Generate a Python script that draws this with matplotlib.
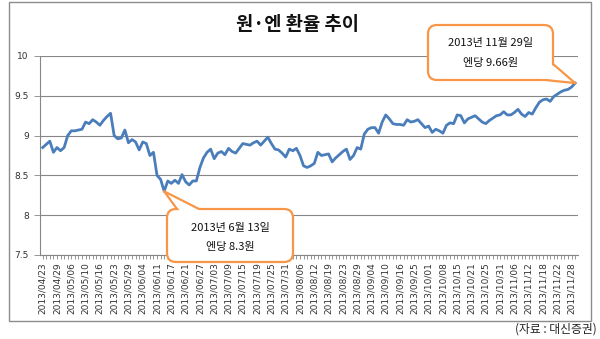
# 원·엔 환율 추이 차트 재현
import matplotlib
matplotlib.use('Agg')
import matplotlib.pyplot as plt
from matplotlib.patches import FancyBboxPatch, Polygon, Rectangle
from matplotlib.transforms import Affine2D

plt.rcParams['font.family'] = ['Noto Sans CJK KR', 'DejaVu Sans']

# 데이터 (엔당 원)
tick_dates = [
    "2013/04/23", "2013/04/29", "2013/05/06", "2013/05/10", "2013/05/16",
    "2013/05/23", "2013/05/29", "2013/06/04", "2013/06/11", "2013/06/17",
    "2013/06/21", "2013/06/27", "2013/07/03", "2013/07/09", "2013/07/15",
    "2013/07/19", "2013/07/25", "2013/07/31", "2013/08/06", "2013/08/12",
    "2013/08/19", "2013/08/23", "2013/08/29", "2013/09/04", "2013/09/10",
    "2013/09/16", "2013/09/25", "2013/10/01", "2013/10/08", "2013/10/15",
    "2013/10/21", "2013/10/25", "2013/10/31", "2013/11/06", "2013/11/12",
    "2013/11/18", "2013/11/22", "2013/11/28",
]
label_step = 4

values = [
    8.85, 8.89, 8.93, 8.79, 8.85, 8.81, 8.85, 9.00, 9.06, 9.06,
    9.07, 9.08, 9.17, 9.15, 9.20, 9.17, 9.13, 9.19, 9.24, 9.28,
    9.00, 8.96, 8.97, 9.07, 8.91, 8.95, 8.92, 8.82, 8.92, 8.90,
    8.75, 8.79, 8.50, 8.45, 8.30, 8.43, 8.40, 8.44, 8.40, 8.51,
    8.42, 8.38, 8.43, 8.43, 8.60, 8.72, 8.79, 8.83, 8.71, 8.78,
    8.80, 8.76, 8.84, 8.80, 8.78, 8.84, 8.90, 8.89, 8.88, 8.91,
    8.93, 8.88, 8.93, 8.98, 8.90, 8.83, 8.82, 8.78, 8.73, 8.83,
    8.81, 8.84, 8.75, 8.62, 8.60, 8.62, 8.65, 8.79, 8.75, 8.76,
    8.77, 8.67, 8.72, 8.76, 8.80, 8.83, 8.70, 8.75, 8.85, 8.83,
    9.02, 9.08, 9.10, 9.10, 9.03, 9.17, 9.26, 9.21, 9.15, 9.14,
    9.14, 9.13, 9.20, 9.17, 9.18, 9.20, 9.15, 9.10, 9.12, 9.04,
    9.08, 9.06, 9.03, 9.13, 9.16, 9.15, 9.26, 9.25, 9.16, 9.21,
    9.23, 9.25, 9.21, 9.17, 9.15, 9.19, 9.22, 9.25, 9.26, 9.30,
    9.26, 9.26, 9.29, 9.33, 9.27, 9.24, 9.29, 9.27, 9.35, 9.42,
    9.45, 9.46, 9.43, 9.49, 9.52, 9.55, 9.57, 9.58, 9.61, 9.66,
]
y_ticks = [7.5, 8, 8.5, 9, 9.5, 10]
y_labels = ["7.5", "8", "8.5", "9", "9.5", "10"]

low_idx = 34   # 2013년 6월 13일
high_idx = len(values) - 1   # 2013년 11월 29일
low_text = ["2013년 6월 13일", "엔당 8.3원"]
high_text = ["2013년 11월 29일", "엔당 9.66원"]

couleur_ligne = '#4A7EBB'
orange = '#F79646'
gris = '#868686'

W, H = 600, 339
fig = plt.figure(figsize=(W / 100, H / 100), dpi=100)
# coordonnées en pixels (origine en haut à gauche)
px = Affine2D().scale(1 / 100, -1 / 100).translate(0, H / 100) + fig.dpi_scale_trans

ax = fig.add_axes([40 / W, 1 - 255 / H, (578 - 40) / W, (255 - 56) / H])
x = list(range(len(values)))
ax.plot(x, values, color=couleur_ligne, lw=2.0, zorder=3, solid_joinstyle='round')
ax.set_xlim(-0.75, 149.8)
ax.set_ylim(7.5, 10)

xlabels = [''] * len(values)
for k, d in enumerate(tick_dates):
    xlabels[k * label_step] = d
ax.set_xticks(x, labels=xlabels, family='DejaVu Sans')
ax.set_yticks(y_ticks, labels=y_labels, family='DejaVu Sans')
ax.tick_params(axis='x', length=3, width=0.6, color=gris, labelsize=6.5,
               labelrotation=90, labelcolor='#333333', pad=2)
ax.tick_params(axis='y', length=4, width=0.6, color=gris, labelsize=6.5,
               labelcolor='#333333', pad=4)
ax.grid(axis='y', color=gris, lw=0.8)
ax.set_axisbelow(True)
for s in ['top', 'right']:
    ax.spines[s].set_visible(False)
for s in ['left', 'bottom']:
    ax.spines[s].set_color(gris)
    ax.spines[s].set_linewidth(0.8)

# cadre extérieur
fig.add_artist(Rectangle((9, 2), 582, 319, transform=px, fill=False,
                         ec='#8c8c8c', lw=1, zorder=1))

fig.text(298, 25, '원·엔 환율 추이', transform=px, ha='center', va='center',
         fontsize=13.5, weight='bold', color='#111111')
fig.text(597, 329, '(자료 : 대신증권)', transform=px, ha='right', va='center',
         fontsize=8.5, color='#222222')


def bulle(box, base1, base2, point, lignes, ys):
    x0, y0, x1, y1 = box
    fig.add_artist(FancyBboxPatch((x0, y0), x1 - x0, y1 - y0, transform=px,
                                  boxstyle='round,pad=0,rounding_size=9',
                                  fc='white', ec=orange, lw=1.6, zorder=5))
    tip = tuple(px.inverted().transform(ax.transData.transform(point)))
    cx = (x0 + x1) / 2
    cy = (y0 + y1) / 2
    inner = []
    for b in (base1, base2):
        dx, dy = cx - b[0], cy - b[1]
        n = (dx ** 2 + dy ** 2) ** 0.5
        inner.append((b[0] + 3 * dx / n, b[1] + 3 * dy / n))
    # remplissage blanc de la pointe (cache le bord de la boîte)
    fig.add_artist(Polygon([inner[0], tip, inner[1], (cx, cy)], closed=True,
                           transform=px, fc='white', ec='none', zorder=6))
    for b in (base1, base2):
        fig.add_artist(plt.Line2D([b[0], tip[0]], [b[1], tip[1]], transform=px,
                                  color=orange, lw=1.6, zorder=7,
                                  solid_capstyle='round'))
    for t, yy in zip(lignes, ys):
        fig.text(cx, yy, t, transform=px, ha='center', va='center',
                 fontsize=8, color='#111111', zorder=8)


bulle((167, 209, 293, 262), (177, 209), (199, 209),
      (low_idx, values[low_idx]), low_text, [228, 247])
bulle((428, 25, 553, 80), (553, 64), (545, 80),
      (high_idx, values[high_idx]), high_text, [43, 63])

fig.savefig('out.png', dpi=100)
